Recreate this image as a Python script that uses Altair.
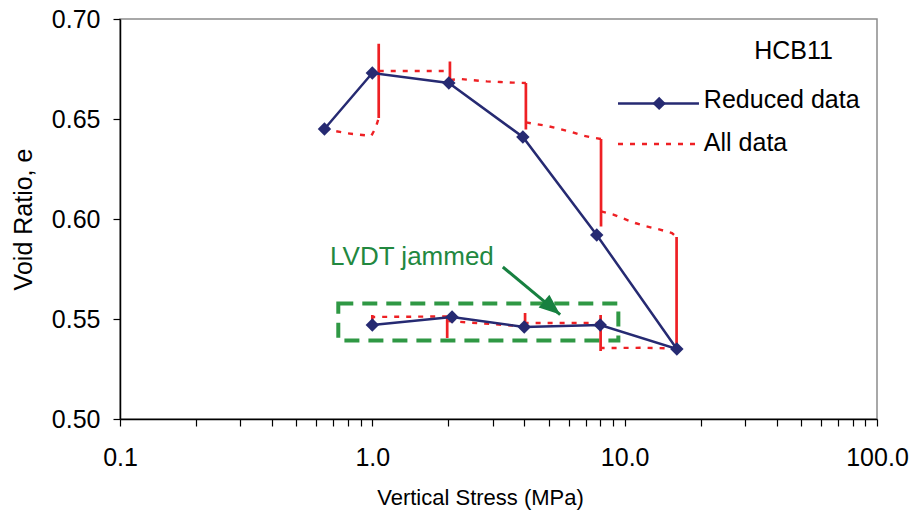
import altair as alt
import pandas as pd

# ---------------- data ----------------
# Reduced data (navy line with diamonds)
reduced_stress = [0.646, 1.0, 2.01, 3.95, 7.75, 16.1, 8.0, 4.0, 2.07, 1.0]
reduced_void = [0.645, 0.673, 0.668, 0.641, 0.592, 0.535, 0.547, 0.546, 0.551, 0.547]

# All data (red): path in recorded order
all_stress = [0.646, 0.80, 0.99, 1.03,
              1.06, 1.06, 1.06,
              2.03, 2.03, 2.03,
              2.23, 2.84, 3.21, 3.60,
              4.06, 4.06, 4.06,
              4.91, 5.54, 6.17, 6.76, 7.63,
              8.06, 8.06, 8.06,
              9.02, 9.89, 11.0, 12.2, 13.8, 15.4,
              16.06, 16.06,
              12.0,
              8.03, 8.03, 8.03, 8.03,
              4.03, 4.03, 4.03,
              1.98, 1.98, 1.98,
              1.00, 1.00, 1.00]
all_void = [0.645, 0.6428, 0.6415, 0.6455,
            0.6505, 0.6876, 0.6740,
            0.6740, 0.6788, 0.6695,
            0.6700, 0.6688, 0.6685, 0.6682,
            0.6680, 0.6447, 0.6483,
            0.6466, 0.6450, 0.6435, 0.6418, 0.6405,
            0.6400, 0.5963, 0.6038,
            0.6022, 0.6002, 0.5980, 0.5963, 0.5947, 0.5930,
            0.5910, 0.5352,
            0.5356,
            0.5355, 0.5340, 0.5520, 0.5480,
            0.5480, 0.5530, 0.5463,
            0.5490, 0.5405, 0.5513,
            0.5510, 0.5488, 0.5520]

# axis ticks
x_tick_values = [round(m * 10 ** k, 6) for k in (-1, 0, 1) for m in range(1, 10)] + [100.0]
y_tick_values = [0.50, 0.55, 0.60, 0.65, 0.70]

# annotations
sample_label = ["HCB11"]
sample_pos = [(32.6, 0.6801)]
legend_labels = ["Reduced data", "All data"]
legend_text_x = [20.6, 20.6]
legend_text_y = [0.6597, 0.6380]
legend_line_x = [9.41, 19.7]
legend_reduced_y = 0.6578
legend_diamond_x = 13.7
legend_all_x = [9.41, 19.4]
legend_all_y = 0.6375
jam_label = ["LVDT jammed"]
jam_pos = [(0.680, 0.5810)]
jam_box_x = [0.733, 9.44]
jam_box_y = [0.5392, 0.5577]
arrow_start = (3.29, 0.576)
arrow_tip = (5.55, 0.5522)

NAVY = "#262a72"
RED = "#ee2024"
GREEN_TXT = "#22883f"
GREEN_BOX = "#2f9844"
GREEN_ARW = "#178040"
FONT = "Liberation Sans"

# ---------------- build tables ----------------
reduced_df = pd.DataFrame({"x": reduced_stress, "y": reduced_void,
                           "order": list(range(len(reduced_stress)))})

# split red path into runs of constant stress (solid) and transitions (dotted)
rows = []
n = len(all_stress)
styles = ["solid" if all_stress[i] == all_stress[i + 1] else "dotted" for i in range(n - 1)]
run = 0
start = 0
for i in range(1, n):
    if i == n - 1 or styles[i] != styles[start]:
        for j in range(start, i + 1):
            rows.append({"x": all_stress[j], "y": all_void[j], "order": j,
                         "run": run, "style": styles[start]})
        run += 1
        start = i
all_df = pd.DataFrame(rows)
dotted_df = all_df[all_df["style"] == "dotted"]
solid_df = all_df[all_df["style"] == "solid"]

label_expr = ("(datum.value == 0.1 || datum.value == 1 || datum.value == 10 || "
              "datum.value == 100) ? format(datum.value, '.1f') : ''")

x_axis = alt.Axis(values=x_tick_values, labelExpr=label_expr, title="Vertical Stress (MPa)",
                  grid=False, tickSize=7, labelPadding=19, labelFontSize=25, titleFontSize=22,
                  titleX=360, titleY=85, titleBaseline="alphabetic", labelOverlap=False,
                  labelFlush=False, labelBound=False)
y_axis = alt.Axis(values=y_tick_values, format=".2f", title="Void Ratio, e", grid=False,
                  tickSize=7, labelPadding=13, labelFontSize=25, titleFontSize=25,
                  titlePadding=15, labelFlush=False, labelOverlap=False)
x_scale = alt.Scale(type="log", domain=[0.1, 100], nice=False)
y_scale = alt.Scale(domain=[0.5, 0.7], nice=False, zero=False)


def X(field="x"):
    return alt.X(f"{field}:Q", scale=x_scale, axis=x_axis)


def Y(field="y"):
    return alt.Y(f"{field}:Q", scale=y_scale, axis=y_axis)


box = alt.Chart(pd.DataFrame({"x": [jam_box_x[0]], "x2": [jam_box_x[1]],
                              "y": [jam_box_y[0]], "y2": [jam_box_y[1]]})).mark_rect(
    fillOpacity=0, stroke=GREEN_BOX, strokeWidth=4, strokeDash=[15, 9]
).encode(x=X(), x2="x2:Q", y=Y(), y2="y2:Q")

dotted = alt.Chart(dotted_df).mark_line(color=RED, strokeWidth=2.4, strokeDash=[5, 7]).encode(
    x=X(), y=Y(), detail="run:N", order="order:Q")
solid = alt.Chart(solid_df).mark_line(color=RED, strokeWidth=2.7).encode(
    x=X(), y=Y(), detail="run:N", order="order:Q")

reduced_line = alt.Chart(reduced_df).mark_line(color=NAVY, strokeWidth=2.5).encode(
    x=X(), y=Y(), order="order:Q")
reduced_pts = alt.Chart(reduced_df).mark_point(
    shape="diamond", filled=True, size=180, color=NAVY, opacity=1).encode(x=X(), y=Y())

# legend (manual)
leg_line_df = pd.DataFrame({"x": legend_line_x, "y": [legend_reduced_y] * 2})
leg_line = alt.Chart(leg_line_df).mark_line(color=NAVY, strokeWidth=2.5).encode(x=X(), y=Y())
leg_pt = alt.Chart(pd.DataFrame({"x": [legend_diamond_x], "y": [legend_reduced_y]})).mark_point(
    shape="diamond", filled=True, size=180, color=NAVY, opacity=1).encode(x=X(), y=Y())
leg_all = alt.Chart(pd.DataFrame({"x": legend_all_x, "y": [legend_all_y] * 2})).mark_line(
    color=RED, strokeWidth=2.4, strokeDash=[5, 7]).encode(x=X(), y=Y())
leg_text = alt.Chart(pd.DataFrame({"x": legend_text_x, "y": legend_text_y,
                                   "t": legend_labels})).mark_text(
    align="left", baseline="middle", fontSize=25, font=FONT, color="black").encode(
    x=X(), y=Y(), text="t:N")

hcb = alt.Chart(pd.DataFrame({"x": [sample_pos[0][0]], "y": [sample_pos[0][1]],
                              "t": sample_label})).mark_text(
    align="left", baseline="alphabetic", fontSize=25, font=FONT, color="black").encode(
    x=X(), y=Y(), text="t:N")

jam = alt.Chart(pd.DataFrame({"x": [jam_pos[0][0]], "y": [jam_pos[0][1]],
                              "t": jam_label})).mark_text(
    align="left", baseline="middle", fontSize=26, font=FONT, color=GREEN_TXT).encode(
    x=X(), y=Y(), text="t:N")

arrow_line = alt.Chart(pd.DataFrame({"x": [arrow_start[0], arrow_tip[0]],
                                     "y": [arrow_start[1], arrow_tip[1]]})).mark_line(
    color=GREEN_ARW, strokeWidth=3).encode(x=X(), y=Y())
arrow_head = alt.Chart(pd.DataFrame({"x": [arrow_tip[0]], "y": [arrow_tip[1]]})).mark_point(
    shape="M0,0L0.8,2L-0.8,2Z", filled=True, size=441, angle=129.8, color=GREEN_ARW,
    opacity=1).encode(x=X(), y=Y())

chart = alt.layer(
    box, dotted, solid, reduced_line, reduced_pts,
    leg_line, leg_pt, leg_all, leg_text, hcb, jam, arrow_line, arrow_head
).properties(
    width=757, height=400,
    autosize=alt.AutoSizeParams(type="none"),
    padding={"left": 120, "top": 19, "right": 35, "bottom": 100},
    background="white",
).configure_view(
    stroke="#8c8c8c", strokeWidth=1.5
).configure_axis(
    domainColor="black", domainWidth=1.5, tickColor="black", tickWidth=1.2,
    labelColor="black", titleColor="black", labelFont=FONT, titleFont=FONT,
    titleFontWeight="normal"
)

chart.save("out.html", embed_options={"renderer": "svg", "actions": False})
